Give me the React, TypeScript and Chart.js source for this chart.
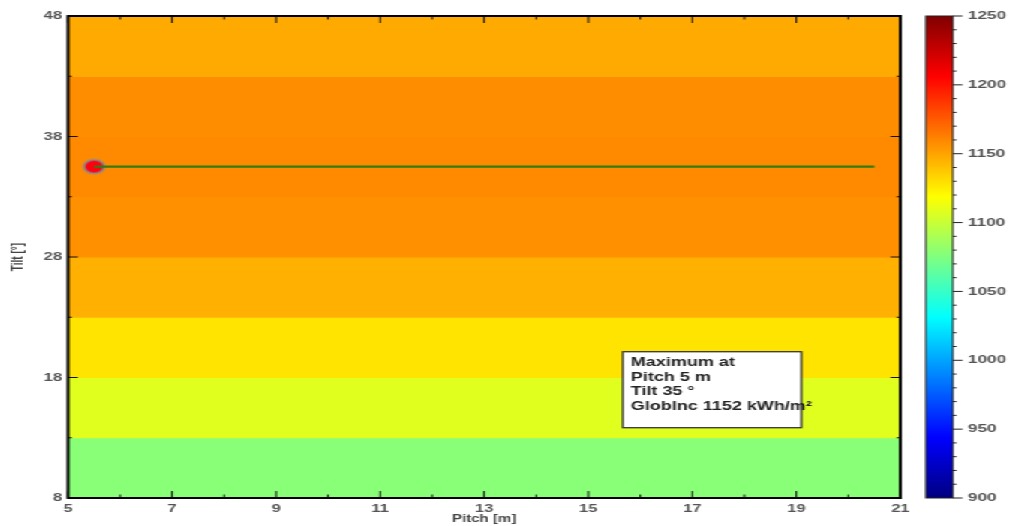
import React, { useEffect, useRef } from "react";
import { Chart, registerables } from "chart.js";

Chart.register(...registerables);

// ---- data ----
const pitchRange = [5, 21];
const tiltRange = [8, 48];
const tiltBandEdges = [8, 13, 18, 23, 28, 33, 38, 43, 48];
const globIncBands = [1078, 1108, 1128, 1146, 1157, 1159, 1158, 1148];
const optimumLinePitch = [5.5, 20.5];
const optimumLineTilt = 35.5;
const maximumPitch = 5.5;
const maximumTilt = 35.5;
const xMajorTicks = [5, 7, 9, 11, 13, 15, 17, 19, 21];
const xMinorTicks = [6, 8, 10, 12, 14, 16, 18, 20];
const yMajorTicks = [8, 18, 28, 38, 48];
const yMinorTicks = [13, 23, 33, 43];
const colorbarRange = [900, 1250];
const colorbarMajorTicks = [900, 950, 1000, 1050, 1100, 1150, 1200, 1250];
const colorbarMinorTicks = [
  910, 920, 930, 940, 960, 970, 980, 990, 1010, 1020, 1030, 1040, 1060, 1070, 1080, 1090,
  1110, 1120, 1130, 1140, 1160, 1170, 1180, 1190, 1210, 1220, 1230, 1240,
];
const annotationLines = ["Maximum at", "Pitch 5 m", "Tilt 35 °", "GlobInc 1152 kWh/m²"];
const xTitle = "Pitch [m]";
const yTitle = "Tilt [°]";

// ---- style ----
const STRETCH = 1013 / 675;
const FONT = '"Liberation Sans", Arial, sans-serif';
const LABEL_COLOR = "#555";

function clamp01(v: number) {
  return Math.max(0, Math.min(1, v));
}
function jet(t: number) {
  const r = clamp01(1.5 - Math.abs(4 * t - 3));
  const g = clamp01(1.5 - Math.abs(4 * t - 2));
  const b = clamp01(1.5 - Math.abs(4 * t - 1));
  return `rgb(${Math.round(r * 255)},${Math.round(g * 255)},${Math.round(b * 255)})`;
}
function valueColor(v: number) {
  return jet((v - colorbarRange[0]) / (colorbarRange[1] - colorbarRange[0]));
}

const heatmapPlugin = {
  id: "heatmapBands",
  beforeDatasetsDraw(chart: any) {
    const { ctx } = chart;
    const xs = chart.scales.x;
    const ys = chart.scales.y;
    ctx.save();
    for (let i = 0; i < globIncBands.length; i++) {
      const x0 = xs.getPixelForValue(pitchRange[0]);
      const x1 = xs.getPixelForValue(pitchRange[1]);
      const y0 = ys.getPixelForValue(tiltBandEdges[i + 1]);
      const y1 = ys.getPixelForValue(tiltBandEdges[i]);
      ctx.fillStyle = valueColor(globIncBands[i]);
      ctx.fillRect(x0, y0, x1 - x0, y1 - y0 + 0.5);
    }
    ctx.restore();
  },
};

const framePlugin = {
  id: "frameAndExtras",
  afterDatasetsDraw(chart: any) {
    const { ctx, chartArea } = chart;
    const { left, right, top, bottom } = chartArea;
    const xs = chart.scales.x;
    const ys = chart.scales.y;
    const cb = chart.scales.cb;
    ctx.save();
    // inward ticks
    ctx.strokeStyle = "#111";
    ctx.lineWidth = 1;
    ctx.beginPath();
    const vt = (v: number, len: number) => {
      const x = xs.getPixelForValue(v);
      ctx.moveTo(x, bottom);
      ctx.lineTo(x, bottom - len);
      ctx.moveTo(x, top);
      ctx.lineTo(x, top + len);
    };
    const ht = (v: number, len: number) => {
      const y = ys.getPixelForValue(v);
      ctx.moveTo(left, y);
      ctx.lineTo(left + len, y);
      ctx.moveTo(right, y);
      ctx.lineTo(right - len, y);
    };
    xMajorTicks.forEach((v) => vt(v, 7));
    xMinorTicks.forEach((v) => vt(v, 3.5));
    yMajorTicks.forEach((v) => ht(v, 6.5));
    yMinorTicks.forEach((v) => ht(v, 2.5));
    ctx.stroke();
    // frame
    ctx.strokeStyle = "#000";
    ctx.lineWidth = 2;
    ctx.strokeRect(left, top, right - left, bottom - top);

    // colorbar
    const cbLeft = 617;
    const cbRight = 635;
    const yTop = cb.getPixelForValue(colorbarRange[1]);
    const yBot = cb.getPixelForValue(colorbarRange[0]);
    const grad = ctx.createLinearGradient(0, yBot, 0, yTop);
    [0, 0.125, 0.375, 0.625, 0.875, 1].forEach((t) => grad.addColorStop(t, jet(t)));
    ctx.fillStyle = grad;
    ctx.fillRect(cbLeft, yTop, cbRight - cbLeft, yBot - yTop);
    ctx.strokeStyle = "#222";
    ctx.lineWidth = 1;
    ctx.strokeRect(cbLeft, yTop, cbRight - cbLeft, yBot - yTop);
    ctx.beginPath();
    colorbarMinorTicks.forEach((v) => {
      const y = cb.getPixelForValue(v);
      ctx.moveTo(cbRight, y);
      ctx.lineTo(cbRight + 2.5, y);
    });
    colorbarMajorTicks.forEach((v) => {
      const y = cb.getPixelForValue(v);
      ctx.moveTo(cbRight, y);
      ctx.lineTo(cbRight + 6.5, y);
    });
    ctx.stroke();
    ctx.fillStyle = LABEL_COLOR;
    ctx.font = `bold 11.5px ${FONT}`;
    ctx.textAlign = "left";
    ctx.textBaseline = "middle";
    colorbarMajorTicks.forEach((v) => {
      ctx.fillText(String(v), 645, cb.getPixelForValue(v));
    });

    // annotation box
    const bx = left + (right - left) * 0.6665;
    const by = top + (bottom - top) * 0.6965;
    const bw = 119;
    const bh = 76;
    ctx.fillStyle = "#fff";
    ctx.fillRect(bx, by, bw, bh);
    ctx.strokeStyle = "#333";
    ctx.lineWidth = 1.3;
    ctx.strokeRect(bx, by, bw, bh);
    ctx.fillStyle = "#222";
    ctx.font = `bold 12px ${FONT}`;
    ctx.textAlign = "left";
    ctx.textBaseline = "middle";
    annotationLines.forEach((line, i) => {
      ctx.fillText(line, bx + 5.3, by + 11 + i * 14.7);
    });
    ctx.restore();
  },
};

function makeMarker() {
  const c = document.createElement("canvas");
  c.width = 18;
  c.height = 18;
  const g = c.getContext("2d")!;
  g.beginPath();
  g.arc(9, 9, 6.8, 0, Math.PI * 2);
  g.fillStyle = "#ff0010";
  g.fill();
  g.lineWidth = 1.7;
  g.strokeStyle = "#8c8c8c";
  g.stroke();
  return c;
}

export default function App() {
  const ref = useRef<HTMLCanvasElement | null>(null);
  useEffect(() => {
    if (!ref.current) return;
    const chart = new Chart(ref.current, {
      type: "scatter",
      data: {
        datasets: [
          {
            label: "Optimum",
            data: optimumLinePitch.map((p) => ({ x: p, y: optimumLineTilt })),
            showLine: true,
            borderColor: "#2f7d12",
            borderWidth: 2.4,
            pointRadius: 0,
          },
          {
            label: "Maximum",
            data: [{ x: maximumPitch, y: maximumTilt }],
            pointStyle: makeMarker(),
            pointRadius: 9,
          },
        ],
      },
      options: {
        animation: false,
        responsive: true,
        maintainAspectRatio: false,
        layout: { padding: { top: 16, right: 75, bottom: 0, left: 0 } },
        plugins: { legend: { display: false }, tooltip: { enabled: false } },
        scales: {
          x: {
            type: "linear",
            min: pitchRange[0],
            max: pitchRange[1],
            afterBuildTicks: (s: any) => {
              s.ticks = xMajorTicks.map((v) => ({ value: v }));
            },
            afterFit: (s: any) => {
              s.height = 28;
            },
            grid: { display: false, drawTicks: false },
            border: { display: false },
            ticks: {
              autoSkip: false,
              maxRotation: 0,
              padding: 4,
              color: LABEL_COLOR,
              font: { family: FONT, size: 11, weight: "bold" },
            },
            title: {
              display: true,
              text: xTitle,
              color: "#444",
              font: { family: FONT, size: 10, weight: "bold" },
              padding: { top: 0, bottom: 1 },
            },
          },
          y: {
            type: "linear",
            min: tiltRange[0],
            max: tiltRange[1],
            afterBuildTicks: (s: any) => {
              s.ticks = yMajorTicks.map((v) => ({ value: v }));
            },
            afterFit: (s: any) => {
              s.width = 45.3;
            },
            grid: { display: false, drawTicks: false },
            border: { display: false },
            ticks: {
              autoSkip: false,
              padding: 4,
              color: LABEL_COLOR,
              font: { family: FONT, size: 11, weight: "bold" },
            },
            title: {
              display: true,
              text: yTitle,
              color: "#444",
              font: { family: FONT, size: 10, weight: "bold" },
              padding: { top: 6, bottom: 0 },
            },
          },
          cb: {
            type: "linear",
            position: "right",
            display: false,
            min: colorbarRange[0],
            max: colorbarRange[1],
          },
        },
      } as any,
      plugins: [heatmapPlugin, framePlugin],
    });
    return () => chart.destroy();
  }, []);

  return (
    <div
      style={{
        position: "fixed",
        left: 0,
        top: 0,
        width: 675,
        height: 526,
        transform: `scaleX(${STRETCH})`,
        transformOrigin: "0 0",
        background: "#fff",
      }}
    >
      <canvas ref={ref} />
    </div>
  );
}
